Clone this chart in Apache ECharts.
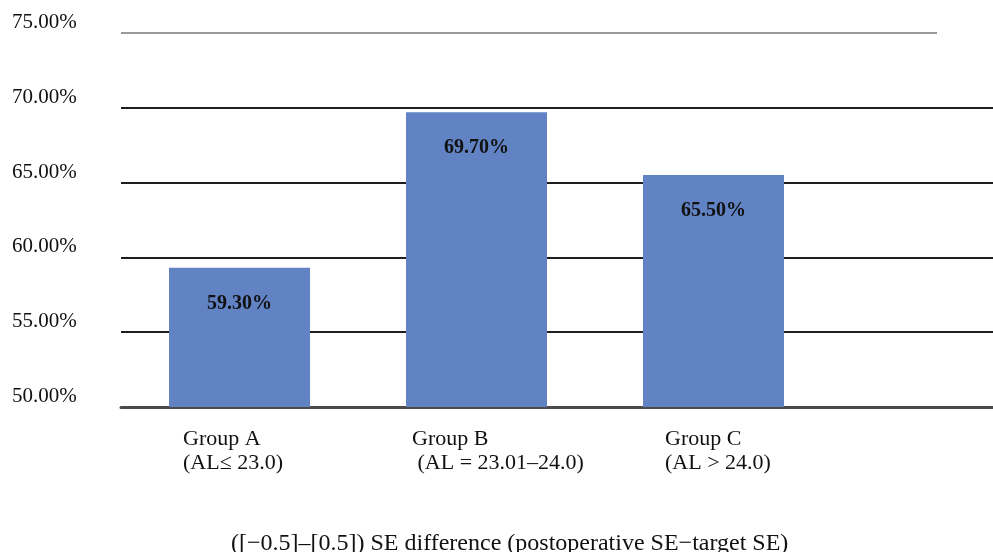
<!DOCTYPE html>
<html>
<head>
<meta charset="utf-8">
<script src="https://cdn.jsdelivr.net/npm/echarts@6/dist/echarts.min.js"></script>
<style>html,body{margin:0;padding:0;background:#fff}#c{width:993px;height:552px}</style>
</head>
<body>
<div id="c"></div>
<script>
const groupNames = ['Group A', 'Group B', 'Group C'];
const groupRanges = ['(AL\u2264 23.0)', ' (AL = 23.01\u201324.0)', '(AL > 24.0)'];
const percentValues = [59.30, 69.70, 65.50];
const yTicks = [50, 55, 60, 65, 70, 75];
const axisTitle = '([\u22120.5]\u2013[0.5]) SE difference (postoperative SE\u2212target SE)';

const FONT = "'Liberation Serif','Times New Roman',serif";
const labelWidths = [113, 129, 97];

const chart = echarts.init(document.getElementById('c'), null, {renderer: 'canvas'});
chart.setOption({
  animation: false,
  backgroundColor: '#fff',
  title: {
    text: axisTitle,
    left: 226, top: 527,
    textStyle: {fontFamily: FONT, fontSize: 24, fontWeight: 'normal', color: '#111'}
  },
  grid: {left: 121, top: 33, bottom: 145, width: 948, outerBoundsMode: 'none', containLabel: false},
  xAxis: {
    type: 'category',
    data: groupNames.map((g, i) => ({
      value: g + '\n' + groupRanges[i],
      textStyle: {width: labelWidths[i]}
    })),
    max: 3,
    axisTick: {show: false},
    axisLine: {lineStyle: {color: '#4a4a4a', width: 3}},
    axisLabel: {
      interval: 0,
      margin: 20,
      fontFamily: FONT, fontSize: 22, color: '#111', lineHeight: 24,
      align: 'center',
      formatter: v => v.split('\n').map(s => '{l|' + s + '}').join('\n'),
      rich: {l: {align: 'left', fontFamily: FONT, fontSize: 22, lineHeight: 24, color: '#111'}}
    },
    splitLine: {show: false}
  },
  yAxis: {
    type: 'value',
    min: yTicks[0], max: yTicks[yTicks.length - 1], interval: 5,
    axisLine: {show: false},
    axisTick: {show: false},
    axisLabel: {
      formatter: v => v.toFixed(2) + '%',
      align: 'left', verticalAlign: 'bottom', margin: 109,
      fontFamily: FONT, fontSize: 21, color: '#111'
    },
    splitLine: {
      show: true,
      showMaxLine: false,
      lineStyle: {color: ['#1e1e1e', '#1e1e1e', '#1e1e1e', '#1e1e1e', '#1e1e1e', 'rgba(0,0,0,0)'], width: 2}
    }
  },
  series: [{
    type: 'bar',
    data: percentValues,
    barWidth: 141,
    itemStyle: {color: '#6183c4'},
    label: {
      show: true, position: 'insideTop', distance: 26,
      formatter: p => p.value.toFixed(2) + '%',
      fontFamily: FONT, fontSize: 20, fontWeight: 'bold', color: '#111'
    },
    markLine: {
      silent: true, symbol: 'none', label: {show: false},
      lineStyle: {color: '#777', width: 1.5, type: 'solid'},
      data: [[{x: 121, yAxis: 75}, {x: 937, yAxis: 75}]]
    }
  }]
});
</script>
</body>
</html>
